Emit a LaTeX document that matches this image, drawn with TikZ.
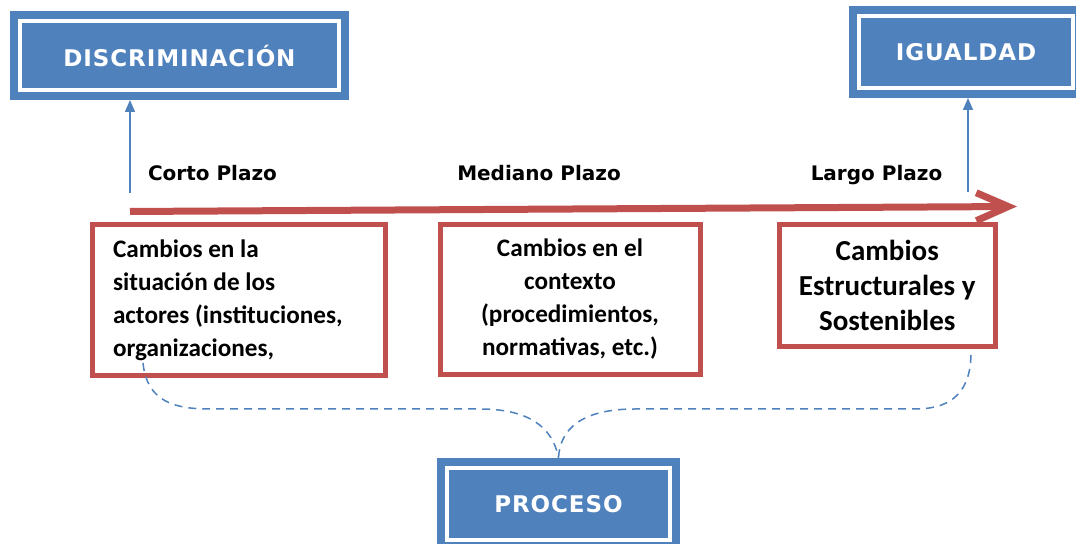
\documentclass[tikz,border=0pt]{standalone}
\usepackage{fontspec}
\setmainfont{Carlito}
\newfontfamily\plazofont{DejaVu Sans}
\newfontfamily\titlefont[LetterSpace=4]{DejaVu Sans}
\usetikzlibrary{arrows.meta}

\definecolor{boxblue}{HTML}{4F81BD}
\definecolor{boxred}{HTML}{C0504D}

\tikzset{
  bluebox/.style={fill=boxblue, draw=white, line width=2pt,
    preaction={draw=boxblue, line width=10pt}, outer sep=5pt,
    text=white, font=\titlefont\bfseries\fontsize{11.5}{13.5}\selectfont},
  redbox/.style={draw=boxred, line width=2.5pt, inner sep=0pt,
    font=\bfseries\fontsize{12.6}{16.5}\selectfont},
  plazo/.style={anchor=base, font=\plazofont\bfseries\fontsize{10}{12}\selectfont},
  uparrow/.style={draw=boxblue, line width=0.75pt,
    -{Triangle[length=6pt,width=5pt]}},
  brace/.style={draw=boxblue, line width=0.75pt, dash pattern=on 4pt off 3pt}
}

\begin{document}
\begin{tikzpicture}[x=0.5pt,y=-0.5pt]

  \useasboundingbox (0,0) rectangle (1076,544);

  % start and goal
  \node[bluebox, minimum width=159.5pt, minimum height=34.25pt]
    (disc) at (179.5,55.75) {DISCRIMINACIÓN};
  \node[bluebox, minimum width=107pt, minimum height=35.75pt]
    (igual) at (966,52.25) {IGUALDAD};
  \node[bluebox, minimum width=111.5pt, minimum height=36pt]
    (proc) at (558.5,504) {PROCESO};

  % time line
  \draw[line width=3.5pt, boxred, -{Straight Barb[length=16pt,width=14pt]}]
    (130,211.5) coordinate (tstart) -- (1017,206.5) coordinate (tend);
  \node[plazo] (corto) at (212.5,181) {Corto Plazo};
  \node[plazo] (mediano) at (539,181) {Mediano Plazo};
  \node[plazo] (largo) at (876.5,181) {Largo Plazo};

  % arrows up to the boxes
  \coordinate (disca) at (130,193);
  \coordinate (igua) at (968,192);
  \draw[uparrow] (disca) -- (disca |- disc.south);
  \draw[uparrow] (igua) -- (igua |- igual.south);

  % changes
  \node[redbox, minimum width=146.5pt, minimum height=75.5pt,
    text width=126pt, align=flush left] (cambio1) at (239,300)
    {Cambios en la\\ situación de los\\ actores (instituciones,\\ organizaciones,};
  \node[redbox, minimum width=130pt, minimum height=75pt,
    align=center] (cambio2) at (570,299.5)
    {Cambios en el\\ contexto\\ (procedimientos,\\ normativas, etc.)};
  \node[redbox, minimum width=108.25pt, minimum height=61pt, align=center,
    font=\bfseries\fontsize{14.5}{17.5}\selectfont] (cambio3) at (887.25,285.5)
    {Cambios\\ Estructurales y\\ Sostenibles};

  % dashed brace down to the process
  \coordinate (b1) at (143,363);
  \coordinate (b3) at (971,355);
  \draw[brace] (b1) .. controls (147,402) and (175,409) .. (210,409)
    -- (480,409) .. controls (530,409) and (553,428) .. (proc.north);
  \draw[brace] (b3) .. controls (970,398) and (945,409) .. (915,409)
    -- (635,409) .. controls (583,409) and (560,428) .. (proc.north);
\end{tikzpicture}
\end{document}
